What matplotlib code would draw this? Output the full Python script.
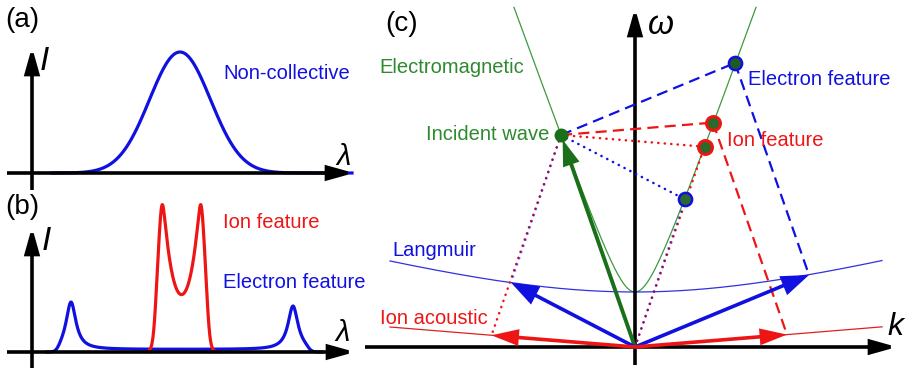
import numpy as np
import matplotlib
matplotlib.use("Agg")
import matplotlib.pyplot as plt
from matplotlib.patches import FancyArrowPatch

plt.rcParams['font.family'] = ['Liberation Sans', 'DejaVu Sans']

# ---------------- data ----------------
# (a) non-collective spectrum: Gaussian (lambda offset, intensity)
a_center = 148.0
a_sigma = 30.5
a_amp = 121.0

# (b) collective spectrum
b_elec_centers = [39.0, 261.0]
b_elec_amps = [47.5, 43.5]
b_elec_gamma = 6.0
b_elec_base = 2.5
b_elec_edges = [26.0, 277.0]
b_ion_centers = [130.0, 169.0]
b_ion_narrow_amp = 44.0
b_ion_narrow_gamma = 4.0
b_ion_broad_amp = 98.0
b_ion_broad_gamma = 12.0
b_ion_halfwidth = 26.0

# (c) dispersion diagram (k, omega)
omega_pe = 55.0
c_light = 2.77
langmuir_coef = 0.27
c_sound = 0.0816
k_em_max = 121.0
k_plasma_range = [-245.0, 247.0]
incident = (-74.0, 212.0)
epw_plus = (174.0, 72.0)
epw_minus = (-124.0, 64.4)
iaw_plus = (152.0, 12.4)
iaw_minus = (-143.5, 11.7)

BLUE = '#1010e0'
RED = '#ee1515'
GREEN_TXT = '#2e8a2e'
GREEN_LINE = '#3d9a3d'
DGREEN = '#197019'
LABEL_FS = 14.5

W, H = 908, 368
fig = plt.figure(figsize=(W / 100, H / 100), dpi=100)


def px_axes(x0, y0, x1, y1, ox, oy):
    ax = fig.add_axes([x0 / W, 1 - y1 / H, (x1 - x0) / W, (y1 - y0) / H])
    ax.set_xlim(x0 - ox, x1 - ox)
    ax.set_ylim(oy - y1, oy - y0)
    ax.set_axis_off()
    return ax


def arrow(ax, start, end, color, lw, hl, hw, z, shrinkB=0):
    p = FancyArrowPatch(start, end,
                        arrowstyle=f'-|>,head_length={hl},head_width={hw}',
                        mutation_scale=1, lw=lw, color=color, zorder=z,
                        shrinkA=0, shrinkB=shrinkB, clip_on=False,
                        joinstyle='miter', capstyle='butt')
    ax.add_patch(p)


def lor(x, c, g):
    return g ** 2 / ((x - c) ** 2 + g ** 2)


def sig(x):
    return 1.0 / (1.0 + np.exp(-x))


# ---------------- panel (a) ----------------
axa = px_axes(0, 0, 360, 190, 32, 173)
x = np.linspace(20, 320, 600)
axa.plot(x, a_amp * np.exp(-(x - a_center) ** 2 / (2 * a_sigma ** 2)),
         color=BLUE, lw=2.3, zorder=1)
arrow(axa, (0, -17), (0, 126), 'black', 2.6, 15, 4.2, 3)
arrow(axa, (-25, 0), (322, 0), 'black', 2.6, 15, 4.2, 3)
axa.text(-27, 153, '(a)', fontsize=20, va='center', ha='left')
axa.text(12, 111, 'I', fontsize=24, fontstyle='italic', va='center', ha='center')
axa.text(312, 16, 'λ', fontsize=21, fontstyle='italic', va='center', ha='center')
axa.text(191, 94, 'Non-collective', fontsize=LABEL_FS, color=BLUE,
         va='baseline', ha='left')

# ---------------- panel (b) ----------------
axb = px_axes(0, 190, 360, 368, 32, 352)
xb = np.linspace(15, 290, 1200)
env_e = sig((xb - b_elec_edges[0]) / 2.0) * sig((b_elec_edges[1] - xb) / 2.0)
elec = env_e * (b_elec_base + sum(A * lor(xb, c, b_elec_gamma)
                                  for A, c in zip(b_elec_amps, b_elec_centers)))
axb.plot(xb, elec, color=BLUE, lw=2.3, zorder=1)

ion_mid = 0.5 * (b_ion_centers[0] + b_ion_centers[1])
xi = np.linspace(ion_mid - 34, ion_mid + 34, 800)
env_i = sig((b_ion_halfwidth - np.abs(xi - ion_mid)) / 1.8)
ion = env_i * sum(b_ion_narrow_amp * lor(xi, c, b_ion_narrow_gamma)
                  + b_ion_broad_amp * lor(xi, c, b_ion_broad_gamma)
                  for c in b_ion_centers)
axb.plot(xi, ion, color=RED, lw=2.3, zorder=2)

arrow(axb, (0, -20), (0, 125), 'black', 2.6, 15, 4.2, 3)
arrow(axb, (-25, 0), (323, 0), 'black', 2.6, 15, 4.2, 3)
axb.text(-27, 145, '(b)', fontsize=20, va='center', ha='left')
axb.text(14, 111, 'I', fontsize=24, fontstyle='italic', va='center', ha='center')
axb.text(311, 19, 'λ', fontsize=21, fontstyle='italic', va='center', ha='center')
axb.text(191, 124, 'Ion feature', fontsize=LABEL_FS, color=RED,
         va='baseline', ha='left')
axb.text(191, 64, 'Electron feature', fontsize=LABEL_FS, color=BLUE,
         va='baseline', ha='left')

# ---------------- panel (c) ----------------
axc = px_axes(360, 0, 908, 368, 635, 347)

k_em = np.linspace(-k_em_max, k_em_max, 600)
axc.plot(k_em, np.sqrt(omega_pe ** 2 + (c_light * k_em) ** 2),
         color=GREEN_LINE, lw=0.9, zorder=1)
k_pl = np.linspace(k_plasma_range[0], k_plasma_range[1], 600)
axc.plot(k_pl, np.sqrt(omega_pe ** 2 + (langmuir_coef * k_pl) ** 2),
         color='#3030e0', lw=0.9, zorder=1)
axc.plot(k_pl, c_sound * np.abs(k_pl), color='#e02020', lw=0.9, zorder=1)

arrow(axc, (0, -18), (0, 339), 'black', 2.6, 15, 4.2, 2)
arrow(axc, (-270, 0), (262, 0), 'black', 2.6, 15, 4.2, 2)

inc = np.array(incident)
s_e = inc + np.array(epw_plus)
s_i1 = inc + np.array(iaw_plus)
s_e2 = inc - np.array(epw_minus)
s_i2 = inc - np.array(iaw_minus)
orig = np.array([0.0, 0.0])


def seg(p, q, **kw):
    axc.plot([p[0], q[0]], [p[1], q[1]], **kw)


dash = dict(lw=1.6, linestyle=(0, (5, 2.8)), zorder=3)
seg(inc, s_e, color=BLUE, **dash)
seg(s_e, epw_plus, color=BLUE, **dash)
seg(inc, s_i1, color=RED, **dash)
seg(s_i1, iaw_plus, color=RED, **dash)

dot = dict(lw=1.8, linestyle=(0, (0.1, 2.5)), dash_capstyle='round', zorder=3)
seg(inc, s_i2, color=RED, **dot)
seg(orig, s_i2, color=RED, **dot)
seg(inc, iaw_minus, color=RED, **dot)
seg(inc, s_e2, color=BLUE, **dot)
seg(orig, s_e2, color=BLUE, alpha=0.55, **dot)
seg(inc, epw_minus, color=BLUE, alpha=0.55, **dot)

arrow(axc, orig, inc, DGREEN, 2.8, 13, 4.3, 4, shrinkB=3.6)
arrow(axc, orig, epw_plus, BLUE, 2.6, 15, 5.5, 4)
arrow(axc, orig, epw_minus, BLUE, 2.6, 15, 5.5, 4)
arrow(axc, orig, iaw_plus, RED, 2.6, 14, 4.3, 4)
arrow(axc, orig, iaw_minus, RED, 2.6, 14, 4.3, 4)

axc.plot(*inc, 'o', ms=9, mfc=DGREEN, mec=DGREEN, zorder=5)
axc.plot(*s_e, 'o', ms=9.5, mfc='#1f5a1f', mec=BLUE, mew=1.8, zorder=5)
axc.plot(*s_e2, 'o', ms=9.5, mfc='#2a6a2a', mec=BLUE, mew=1.8, zorder=5)
axc.plot(*s_i1, 'o', ms=10, mfc='#2a6a2a', mec=RED, mew=2.2, zorder=5)
axc.plot(*s_i2, 'o', ms=10, mfc='#2a6a2a', mec=RED, mew=2.2, zorder=5)

axc.text(-250, 323, '(c)', fontsize=20, va='center', ha='left')
axc.text(26, 322, 'ω', fontsize=24, fontstyle='italic', va='center', ha='center')
axc.text(260, 20, 'k', fontsize=23, fontstyle='italic', va='center', ha='center')
axc.text(-256, 274, 'Electromagnetic', fontsize=LABEL_FS, color=GREEN_TXT,
         va='baseline', ha='left')
axc.text(-209, 207, 'Incident wave', fontsize=LABEL_FS, color=GREEN_TXT,
         va='baseline', ha='left')
axc.text(113, 262, 'Electron feature', fontsize=LABEL_FS, color=BLUE,
         va='baseline', ha='left')
axc.text(92, 201, 'Ion feature', fontsize=LABEL_FS, color=RED,
         va='baseline', ha='left')
axc.text(-243, 91, 'Langmuir', fontsize=LABEL_FS, color=BLUE,
         va='baseline', ha='left')
axc.text(-255, 23, 'Ion acoustic', fontsize=LABEL_FS, color=RED,
         va='baseline', ha='left')

fig.savefig('out.png', dpi=100)
